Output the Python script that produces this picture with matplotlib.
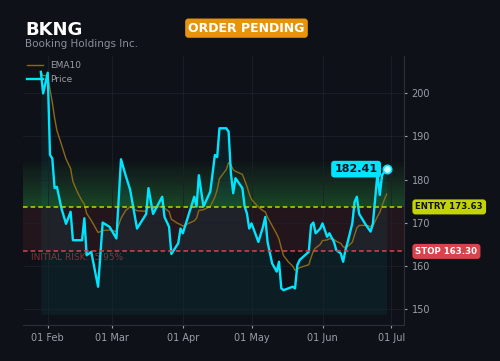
import pandas as pd
import matplotlib
matplotlib.use('Agg')
import matplotlib.pyplot as plt
import matplotlib.dates as mdates
import matplotlib.transforms as mtransforms

# data
ticker = 'BKNG'
company = 'Booking Holdings Inc.'
status = 'ORDER PENDING'
entry = 173.63
stop = 163.30
target_top = 184.0

dates = ['2025-01-29', '2025-01-30', '2025-02-01', '2025-02-02', '2025-02-03',
         '2025-02-04', '2025-02-05', '2025-02-07', '2025-02-09', '2025-02-11',
         '2025-02-12', '2025-02-14', '2025-02-16', '2025-02-17', '2025-02-18',
         '2025-02-20', '2025-02-23', '2025-02-25', '2025-02-28', '2025-03-03',
         '2025-03-05', '2025-03-07', '2025-03-09', '2025-03-12', '2025-03-16',
         '2025-03-17', '2025-03-19', '2025-03-23', '2025-03-24', '2025-03-26',
         '2025-03-27', '2025-03-30', '2025-03-31', '2025-04-01', '2025-04-06',
         '2025-04-07', '2025-04-08', '2025-04-10', '2025-04-13', '2025-04-15',
         '2025-04-16', '2025-04-17', '2025-04-20', '2025-04-21', '2025-04-22',
         '2025-04-23', '2025-04-24', '2025-04-27', '2025-04-28', '2025-04-29',
         '2025-04-30', '2025-05-01', '2025-05-04', '2025-05-06', '2025-05-07',
         '2025-05-08', '2025-05-10', '2025-05-12', '2025-05-13', '2025-05-14',
         '2025-05-15', '2025-05-17', '2025-05-19', '2025-05-20', '2025-05-21',
         '2025-05-22', '2025-05-26', '2025-05-27', '2025-05-28', '2025-05-29',
         '2025-05-31', '2025-06-01', '2025-06-03', '2025-06-04', '2025-06-06',
         '2025-06-07', '2025-06-09', '2025-06-10', '2025-06-11', '2025-06-12',
         '2025-06-14', '2025-06-15', '2025-06-16', '2025-06-17', '2025-06-20',
         '2025-06-22', '2025-06-23', '2025-06-25', '2025-06-26', '2025-06-27',
         '2025-06-28', '2025-06-29']
price = [205.0, 200.0, 204.8, 185.7, 184.9,
         178.0, 178.3, 173.3, 169.7, 172.5,
         165.9, 165.9, 165.9, 171.0, 162.4,
         163.2, 155.1, 170.0, 169.0, 166.3,
         184.7, 181.0, 177.6, 168.6, 172.0,
         178.0, 172.0, 176.0, 171.3, 169.0,
         162.7, 165.2, 168.6, 167.5, 176.0,
         173.7, 181.0, 173.7, 177.2, 185.7,
         185.2, 191.9, 191.9, 191.1, 181.4,
         176.8, 180.3, 178.0, 173.7, 172.1,
         168.6, 169.8, 165.5, 169.0, 171.3,
         165.5, 160.5, 158.6, 160.9, 154.7,
         154.3, 154.7, 155.1, 154.7, 160.1,
         161.3, 163.2, 169.4, 170.0, 167.5,
         168.6, 169.8, 166.7, 167.5, 165.5,
         163.6, 162.8, 160.9, 163.6, 165.5,
         169.8, 174.8, 176.0, 172.0, 169.4,
         167.9, 169.8, 181.4, 176.4, 181.0,
         181.8, 182.41]

dt = pd.to_datetime(dates)
s = pd.Series(price, index=dt)
ema = s.ewm(span=10, adjust=False).mean()

bg = '#0e1117'
cyan = '#00e5ff'
green_y = '#c3d500'
red = '#d9434b'
txt = '#9aa0a8'

fig = plt.figure(figsize=(5, 3.61), dpi=100, facecolor=bg)
ax = fig.add_axes([0.046, 0.0997, 0.762, 0.7453], facecolor=bg)

# zones
nb = 20
step = (target_top - entry) / nb
for i in range(nb):
    ax.axhspan(entry + i * step, entry + (i + 1) * step, color='#2ea043',
               alpha=0.34 * (1 - i / nb) + 0.02, lw=0)
ax.axhspan(stop, entry, color=red, alpha=0.10, lw=0)

ax.fill_between(dt, price, 148.7, color=cyan, alpha=0.06, lw=0)

ax.plot(dt, ema, color='#8a6a1a', lw=1.0, label='EMA10')
ax.plot(dt, price, color=cyan, lw=1.7, label='Price')

ax.axhline(entry, color=green_y, ls='--', lw=1.1, dashes=(3, 2))
ax.axhline(stop, color=red, ls='--', lw=1.1, dashes=(3, 2))

ax.plot(dt[-1], price[-1], 'o', ms=6, mfc='#d8f8ff', mec=cyan, mew=1.2, zorder=5)
ax.annotate(f'{price[-1]:.2f}', (dt[-1], price[-1]), xytext=(-22, 0),
            textcoords='offset points', ha='center', va='center',
            fontsize=8, fontweight='bold', color='#0e1117',
            bbox=dict(boxstyle='round,pad=0.3', fc=cyan, ec='none'))

tr = mtransforms.blended_transform_factory(ax.transAxes, ax.transData)
ax.text(1.03, entry, f'ENTRY {entry:.2f}', transform=tr, ha='left', va='center',
        fontsize=6.2, fontweight='bold', color='#111111',
        bbox=dict(boxstyle='round,pad=0.35', fc=green_y, ec='none'))
ax.text(1.03, stop, f'STOP {stop:.2f}', transform=tr, ha='left', va='center',
        fontsize=6.2, fontweight='bold', color='white',
        bbox=dict(boxstyle='round,pad=0.35', fc=red, ec='none'))
risk = (stop - entry) / entry * 100
ax.text(0.02, stop - 1.4, f'INITIAL RISK: {risk:.2f}%', transform=tr,
        ha='left', va='center', fontsize=6.5, color=red, alpha=0.6)

ax.set_xlim(pd.Timestamp('2025-01-21 05:00'), pd.Timestamp('2025-07-06 14:00'))
ax.set_ylim(146.2, 208.7)
ax.xaxis.set_major_locator(mdates.MonthLocator())
ax.xaxis.set_major_formatter(mdates.DateFormatter('%d %b'))
ax.yaxis.tick_right()
ax.set_yticks([150, 160, 170, 180, 190, 200])
ax.tick_params(colors=txt, labelsize=7, length=2, width=0.8)
ax.grid(True, color='#1c2129', lw=0.6)
for sp in ['left', 'top']:
    ax.spines[sp].set_visible(False)
for sp in ['right', 'bottom']:
    ax.spines[sp].set_color('#2c3038')

leg = ax.legend(loc='upper left', bbox_to_anchor=(-0.005, 1.0), frameon=False,
                fontsize=6.5, labelcolor=txt, handlelength=1.8, borderaxespad=0.2)

fig.text(0.05, 0.903, ticker, color='white', fontsize=13, fontweight='bold',
         va='baseline', ha='left')
fig.text(0.05, 0.877, company, color='#8b8f98', fontsize=7.5, va='center', ha='left')
fig.text(0.493, 0.922, status, color='white', fontsize=9, fontweight='bold',
         va='center', ha='center',
         bbox=dict(boxstyle='round,pad=0.25', fc='#e8940a', ec='none'))

fig.savefig('out.png', dpi=100, facecolor=bg)
